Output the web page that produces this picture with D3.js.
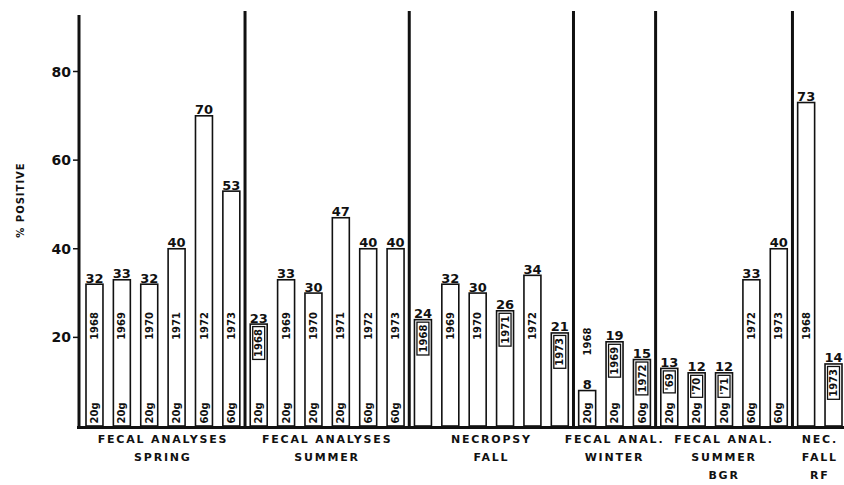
<!DOCTYPE html>
<html>
<head>
<meta charset="utf-8">
<script src="https://cdn.jsdelivr.net/npm/d3@7"></script>
<style>
  body { margin: 0; background: #fff; }
  svg { display: block; }
  text { font-family: "DejaVu Sans", sans-serif; fill: #111; }
</style>
</head>
<body>
<svg id="chart" width="844" height="485"></svg>
<script>
// groups of bars, left to right
const groupLabels = [
  ['FECAL ANALYSES', 'SPRING'],
  ['FECAL ANALYSES', 'SUMMER'],
  ['NECROPSY', 'FALL'],
  ['FECAL ANAL.', 'WINTER'],
  ['FECAL ANAL.', 'SUMMER', 'BGR'],
  ['NEC.', 'FALL', 'RF']
];
const groupSizes = [6, 6, 6, 3, 5, 2];

// % positive per bar
const values = [32, 33, 32, 40, 70, 53,
                23, 33, 30, 47, 40, 40,
                24, 32, 30, 26, 34, 21,
                8, 19, 15,
                13, 12, 12, 33, 40,
                73, 14];
const years = ['1968', '1969', '1970', '1971', '1972', '1973',
               '1968', '1969', '1970', '1971', '1972', '1973',
               '1968', '1969', '1970', '1971', '1972', '1973',
               '1968', '1969', '1972',
               "'69", "'70", "'71", '1972', '1973',
               '1968', '1973'];
const diets = ['20g', '20g', '20g', '20g', '60g', '60g',
               '20g', '20g', '20g', '20g', '60g', '60g',
               '', '', '', '', '', '',
               '20g', '20g', '60g',
               '20g', '20g', '20g', '60g', '60g',
               '', ''];
const yTicks = [20, 40, 60, 80];

const svg = d3.select('#chart');
const ink = '#111';

const x = d3.scaleBand()
  .domain(d3.range(values.length))
  .range([80.8, 847.2])
  .paddingInner(0.38)
  .paddingOuter(0.19);
const y = d3.scaleLinear().domain([0, 80]).range([426, 71.5]);
const bw = x.bandwidth();
const cx = i => x(i) + bw / 2;

// group index of every bar
const groupEnds = d3.cumsum(groupSizes);

// bars
svg.append('g')
  .selectAll('rect')
  .data(values)
  .join('rect')
    .attr('x', (d, i) => x(i))
    .attr('y', d => y(d))
    .attr('width', bw)
    .attr('height', d => y(0) - y(d))
    .attr('fill', '#fff')
    .attr('stroke', ink)
    .attr('stroke-width', 1.6);

// value labels
svg.append('g')
  .selectAll('text')
  .data(values)
  .join('text')
    .attr('x', (d, i) => cx(i))
    .attr('y', d => y(d) - 1.5)
    .attr('text-anchor', 'middle')
    .style('font-size', '13px')
    .style('font-weight', 'bold')
    .text(d => d);

// year labels (rotated), boxed when the bar is short
const yearG = svg.append('g');
values.forEach((v, i) => {
  const fs = 10;
  let top, boxed = v <= 26;
  if (v < 10) top = y(v) - 63;          // sits above the value label
  else top = Math.max(312, y(v) + 5);
  const t = yearG.append('text')
    .attr('transform', `translate(${cx(i) + fs * 0.36},${top}) rotate(-90)`)
    .attr('text-anchor', 'end')
    .style('font-size', fs + 'px')
    .style('font-weight', 'bold')
    .text(years[i]);
  if (boxed && v >= 10) {
    const len = t.node().getComputedTextLength();
    yearG.append('rect')
      .attr('x', cx(i) - bw / 2 + 2.5)
      .attr('y', top - 2.5)
      .attr('width', bw - 5)
      .attr('height', len + 5)
      .attr('fill', 'none')
      .attr('stroke', ink)
      .attr('stroke-width', 1.3);
  }
});

// diet labels at the bottom of the bars
svg.append('g')
  .selectAll('text')
  .data(diets)
  .join('text')
    .attr('transform', (d, i) => `translate(${cx(i) + 3.6},${y(0) - 2.5}) rotate(-90)`)
    .attr('text-anchor', 'start')
    .style('font-size', '10px')
    .style('font-weight', 'bold')
    .text(d => d);

// baseline
svg.append('line')
  .attr('x1', 77).attr('x2', 844)
  .attr('y1', y(0) + 1.5).attr('y2', y(0) + 1.5)
  .attr('stroke', ink).attr('stroke-width', 3);

// y axis
svg.append('line')
  .attr('x1', 79).attr('x2', 79)
  .attr('y1', 15).attr('y2', y(0) + 3)
  .attr('stroke', ink).attr('stroke-width', 3);

const ticks = svg.append('g');
ticks.selectAll('line')
  .data(yTicks)
  .join('line')
    .attr('x1', 73).attr('x2', 79)
    .attr('y1', d => y(d)).attr('y2', d => y(d))
    .attr('stroke', ink).attr('stroke-width', 1.5);
ticks.selectAll('text')
  .data(yTicks)
  .join('text')
    .attr('x', 71)
    .attr('y', d => y(d) + 5)
    .attr('text-anchor', 'end')
    .style('font-size', '14px')
    .style('font-weight', 'bold')
    .text(d => d);

svg.append('text')
  .attr('transform', 'translate(24,200) rotate(-90)')
  .attr('text-anchor', 'middle')
  .style('font-size', '10px')
  .style('font-weight', 'bold')
  .style('letter-spacing', '1px')
  .text('% POSITIVE');

// group separators
svg.append('g')
  .selectAll('line')
  .data(groupEnds.slice(0, -1))
  .join('line')
    .attr('x1', d => x(d - 1) + bw + (x.step() - bw) / 2)
    .attr('x2', d => x(d - 1) + bw + (x.step() - bw) / 2)
    .attr('y1', 11)
    .attr('y2', y(0) + 2)
    .attr('stroke', ink)
    .attr('stroke-width', 3);

// group names under the axis
const gl = svg.append('g');
groupLabels.forEach((lines, g) => {
  const first = g === 0 ? 0 : groupEnds[g - 1];
  const last = groupEnds[g] - 1;
  const mid = (cx(first) + cx(last)) / 2;
  lines.forEach((s, k) => {
    gl.append('text')
      .attr('x', mid)
      .attr('y', 443 + k * 18)
      .attr('text-anchor', 'middle')
      .style('font-size', '11px')
      .style('font-weight', 'bold')
      .style('letter-spacing', '1.8px')
      .text(s);
  });
});
</script>
</body>
</html>
